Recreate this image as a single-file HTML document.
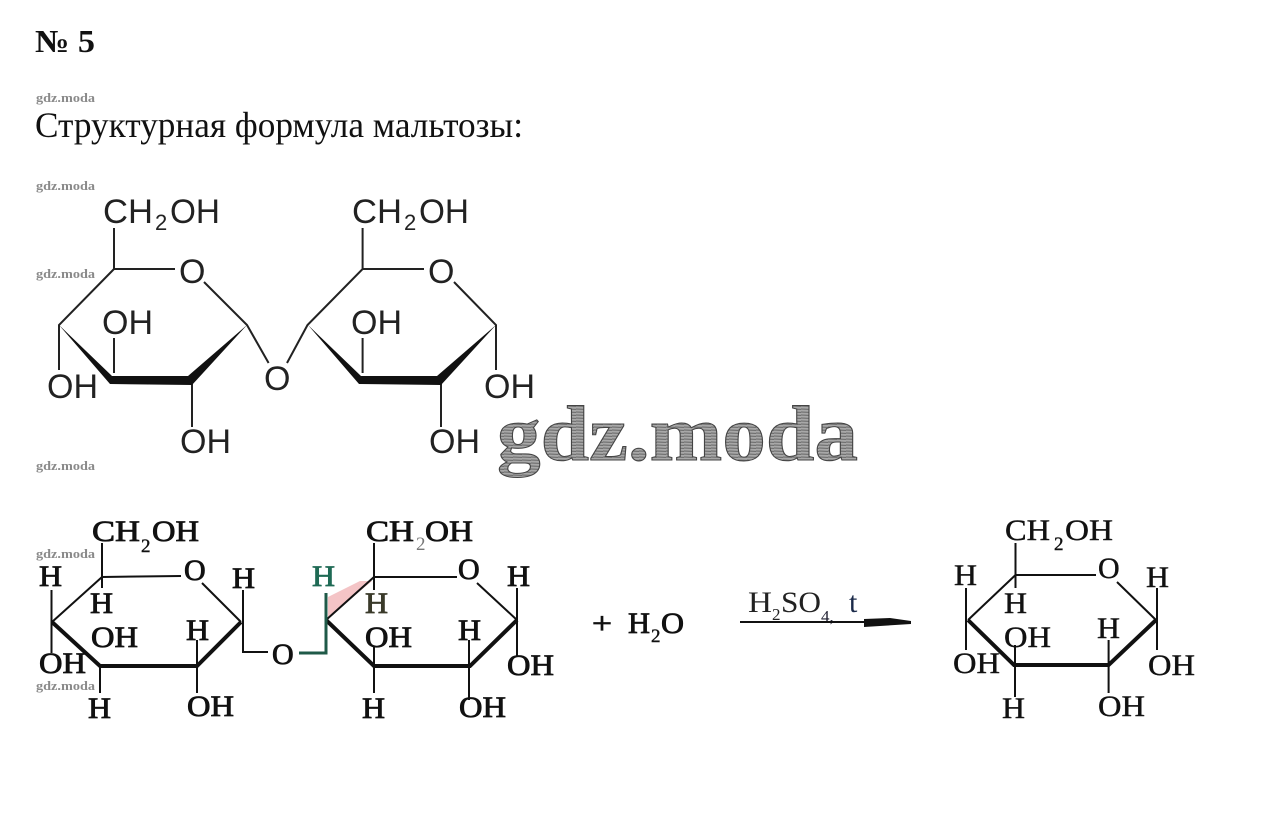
<!DOCTYPE html>
<html><head><meta charset="utf-8"><style>
html,body{margin:0;padding:0;background:#fff}
svg{display:block}
.s{font-family:"Liberation Sans",sans-serif;font-size:34px;fill:#222}
.sub{font-family:"Liberation Sans",sans-serif;font-size:22px;fill:#222}
.b{font-family:"Liberation Serif",serif;font-size:30px;fill:#111;stroke:#111;stroke-width:.8}
.bs{font-family:"Liberation Serif",serif;font-size:19px;fill:#111;stroke:#111;stroke-width:.4}
.r{font-family:"Liberation Serif",serif;font-size:30px;fill:#111;stroke:#111;stroke-width:.4}
.w{font-family:"Liberation Serif",serif;font-weight:bold;font-size:13px;fill:#8a8a8a}
</style></head><body>
<svg width="1288" height="820" viewBox="0 0 1288 820" xmlns="http://www.w3.org/2000/svg">
<defs>
<pattern id="h" width="9" height="3" patternUnits="userSpaceOnUse"><rect width="9" height="3" fill="#a8a8a8"/><line x1="0" y1="1" x2="9" y2="1.4" stroke="#666" stroke-width="1"/></pattern>
</defs>
<rect width="1288" height="820" fill="#fff"/>

<text x="35" y="52" font-family="Liberation Serif,serif" font-weight="bold" font-size="32" fill="#111" textLength="60" lengthAdjust="spacingAndGlyphs">№ 5</text>
<text x="35" y="137" font-family="Liberation Serif,serif" font-size="36" fill="#111" textLength="488" lengthAdjust="spacingAndGlyphs">Структурная формула мальтозы:</text>

<g class="marks">
<text class="w" x="36" y="102" textLength="59" lengthAdjust="spacingAndGlyphs">gdz.moda</text>
<text class="w" x="36" y="190" textLength="59" lengthAdjust="spacingAndGlyphs">gdz.moda</text>
<text class="w" x="36" y="278" textLength="59" lengthAdjust="spacingAndGlyphs">gdz.moda</text>
<text class="w" x="36" y="470" textLength="59" lengthAdjust="spacingAndGlyphs">gdz.moda</text>
<text class="w" x="36" y="558" textLength="59" lengthAdjust="spacingAndGlyphs">gdz.moda</text>
<text class="w" x="36" y="690" textLength="59" lengthAdjust="spacingAndGlyphs">gdz.moda</text>
</g>

<!-- Top maltose -->
<g fill="none" stroke="#222" stroke-width="2">
<path d="M114 228V269H175M204 282L247 325L268.6 363M287 363L307.5 325L362.6 269H424M362.6 228V269M454 282L496 325V370M114 269L59 325V370M114 338V373M192 383V427M362.6 338V373M441 383V427"/>
</g>
<polygon fill="#111" points="59,325 112,376 188,376 247,325 192,385 110,384"/>
<polygon fill="#111" points="308,325 361,376 437,376 496,325 441,385 359,384"/>
<g>
<text class="s" x="103" y="223" textLength="50" lengthAdjust="spacingAndGlyphs">CH</text><text class="sub" x="155" y="230">2</text><text class="s" x="170" y="223" textLength="50" lengthAdjust="spacingAndGlyphs">OH</text>
<text class="s" x="352" y="223" textLength="50" lengthAdjust="spacingAndGlyphs">CH</text><text class="sub" x="404" y="230">2</text><text class="s" x="419" y="223" textLength="50" lengthAdjust="spacingAndGlyphs">OH</text>
<text class="s" x="179" y="283">O</text><text class="s" x="428" y="283">O</text><text class="s" x="264" y="390">O</text>
<text class="s" x="102" y="334">OH</text><text class="s" x="351" y="334">OH</text>
<text class="s" x="47" y="398">OH</text><text class="s" x="484" y="398">OH</text>
<text class="s" x="180" y="453">OH</text><text class="s" x="429" y="453">OH</text>
</g>

<!-- Logo -->
<text x="497" y="460" font-family="Liberation Serif,serif" font-weight="bold" font-size="78" fill="url(#h)" stroke="#444" stroke-width="1" textLength="361" lengthAdjust="spacingAndGlyphs">gdz.moda</text>

<!-- Bottom left disaccharide -->
<polygon fill="#f4c4c6" points="328,597 360,581 372,581 328,618"/>
<g fill="none" stroke="#111">
<path stroke-width="2" d="M102 543V588M102 577L181 576M202 583L241 622M243 590V652H268M52 622L102 577M51.5 590V653M197 640V693M100 666V693M374 543V590M374 577H457M477 583L517 620M517 588V657M374 647V693M469 640V700M326 620L374 577"/>
<path stroke-width="4" d="M52 622L100 666H197L241 622M326 620L374 666H470L517 620"/>
<path stroke="#1f5a48" stroke-width="3" fill="none" d="M299 653H326V593"/>
</g>
<g>
<text class="b" x="92" y="541" textLength="48" lengthAdjust="spacingAndGlyphs">CH</text><text class="bs" x="141" y="552">2</text><text class="b" x="152" y="541" textLength="47" lengthAdjust="spacingAndGlyphs">OH</text>
<text class="b" x="366" y="541" textLength="48" lengthAdjust="spacingAndGlyphs">CH</text><text class="bs" x="416" y="550" style="fill:#777;stroke:none">2</text><text class="b" x="425" y="541" textLength="48" lengthAdjust="spacingAndGlyphs">OH</text>
<text class="b" x="184" y="580">O</text><text class="b" x="272" y="664">O</text><text class="b" x="458" y="579">O</text>
<text class="b" x="39" y="586" textLength="23" lengthAdjust="spacingAndGlyphs">H</text>
<text class="b" x="232" y="588" textLength="23" lengthAdjust="spacingAndGlyphs">H</text>
<text class="b" x="90" y="613" textLength="23" lengthAdjust="spacingAndGlyphs">H</text>
<text class="b" x="186" y="640" textLength="23" lengthAdjust="spacingAndGlyphs">H</text>
<text class="b" x="88" y="718" textLength="23" lengthAdjust="spacingAndGlyphs">H</text>
<text class="b" x="91" y="647" textLength="47" lengthAdjust="spacingAndGlyphs">OH</text>
<text class="b" x="39" y="673" textLength="47" lengthAdjust="spacingAndGlyphs">OH</text>
<text class="b" x="187" y="716" textLength="47" lengthAdjust="spacingAndGlyphs">OH</text>

<text class="b" x="312" y="586" textLength="23" lengthAdjust="spacingAndGlyphs" style="fill:#1f6a55;stroke:#1f6a55">H</text>
<text class="b" x="365" y="613" textLength="23" lengthAdjust="spacingAndGlyphs" style="fill:#3a3a2a;stroke:#3a3a2a">H</text>
<text class="b" x="507" y="586" textLength="23" lengthAdjust="spacingAndGlyphs">H</text>
<text class="b" x="458" y="640" textLength="23" lengthAdjust="spacingAndGlyphs">H</text>
<text class="b" x="362" y="718" textLength="23" lengthAdjust="spacingAndGlyphs">H</text>
<text class="b" x="365" y="647" textLength="47" lengthAdjust="spacingAndGlyphs">OH</text>
<text class="b" x="507" y="675" textLength="47" lengthAdjust="spacingAndGlyphs">OH</text>
<text class="b" x="459" y="717" textLength="47" lengthAdjust="spacingAndGlyphs">OH</text>
</g>

<!-- Plus water -->
<text class="b" x="592" y="633" textLength="20" lengthAdjust="spacingAndGlyphs">+</text>
<text class="b" x="628" y="633" textLength="22" lengthAdjust="spacingAndGlyphs">H</text><text class="bs" x="651" y="642">2</text><text class="b" x="661" y="633" textLength="23" lengthAdjust="spacingAndGlyphs">O</text>

<!-- Arrow -->
<text x="748" y="612" font-family="Liberation Serif,serif" font-size="30" fill="#222" textLength="24" lengthAdjust="spacingAndGlyphs">H</text>
<text x="772" y="620" font-family="Liberation Serif,serif" font-size="17" fill="#222">2</text>
<text x="781" y="612" font-family="Liberation Serif,serif" font-size="30" fill="#222" textLength="40" lengthAdjust="spacingAndGlyphs">SO</text>
<text x="821" y="622" font-family="Liberation Serif,serif" font-size="17" fill="#223">4,</text>
<text x="849" y="612" font-family="Liberation Serif,serif" font-size="30" fill="#1b2a4a">t</text>
<path d="M740 622H866" stroke="#111" stroke-width="2" fill="none"/>
<polygon fill="#111" points="864,619 890,618 911,621 911,624 880,626 864,627"/>

<!-- Right product -->
<g fill="none" stroke="#111">
<path stroke-width="2" d="M1015.5 543V588M1015.5 575H1096M1117 582L1156 620M1157 588V650M968 620L1015.5 575M966 588V650M1015 645V697M1108.6 640V693"/>
<path stroke-width="4" d="M968 620L1014 665H1108.6L1156 620"/>
</g>
<g>
<text class="r" x="1005" y="540" textLength="45" lengthAdjust="spacingAndGlyphs">CH</text><text class="bs" x="1054" y="550">2</text><text class="r" x="1065" y="540" textLength="48" lengthAdjust="spacingAndGlyphs">OH</text>
<text class="r" x="1098" y="578">O</text>
<text class="r" x="954" y="585" textLength="23" lengthAdjust="spacingAndGlyphs">H</text>
<text class="r" x="1146" y="587" textLength="23" lengthAdjust="spacingAndGlyphs">H</text>
<text class="r" x="1004" y="613" textLength="23" lengthAdjust="spacingAndGlyphs">H</text>
<text class="r" x="1097" y="638" textLength="23" lengthAdjust="spacingAndGlyphs">H</text>
<text class="r" x="1002" y="718" textLength="23" lengthAdjust="spacingAndGlyphs">H</text>
<text class="r" x="1004" y="647" textLength="47" lengthAdjust="spacingAndGlyphs">OH</text>
<text class="r" x="953" y="673" textLength="47" lengthAdjust="spacingAndGlyphs">OH</text>
<text class="r" x="1148" y="675" textLength="47" lengthAdjust="spacingAndGlyphs">OH</text>
<text class="r" x="1098" y="716" textLength="47" lengthAdjust="spacingAndGlyphs">OH</text>
</g>
</svg>
</body></html>
